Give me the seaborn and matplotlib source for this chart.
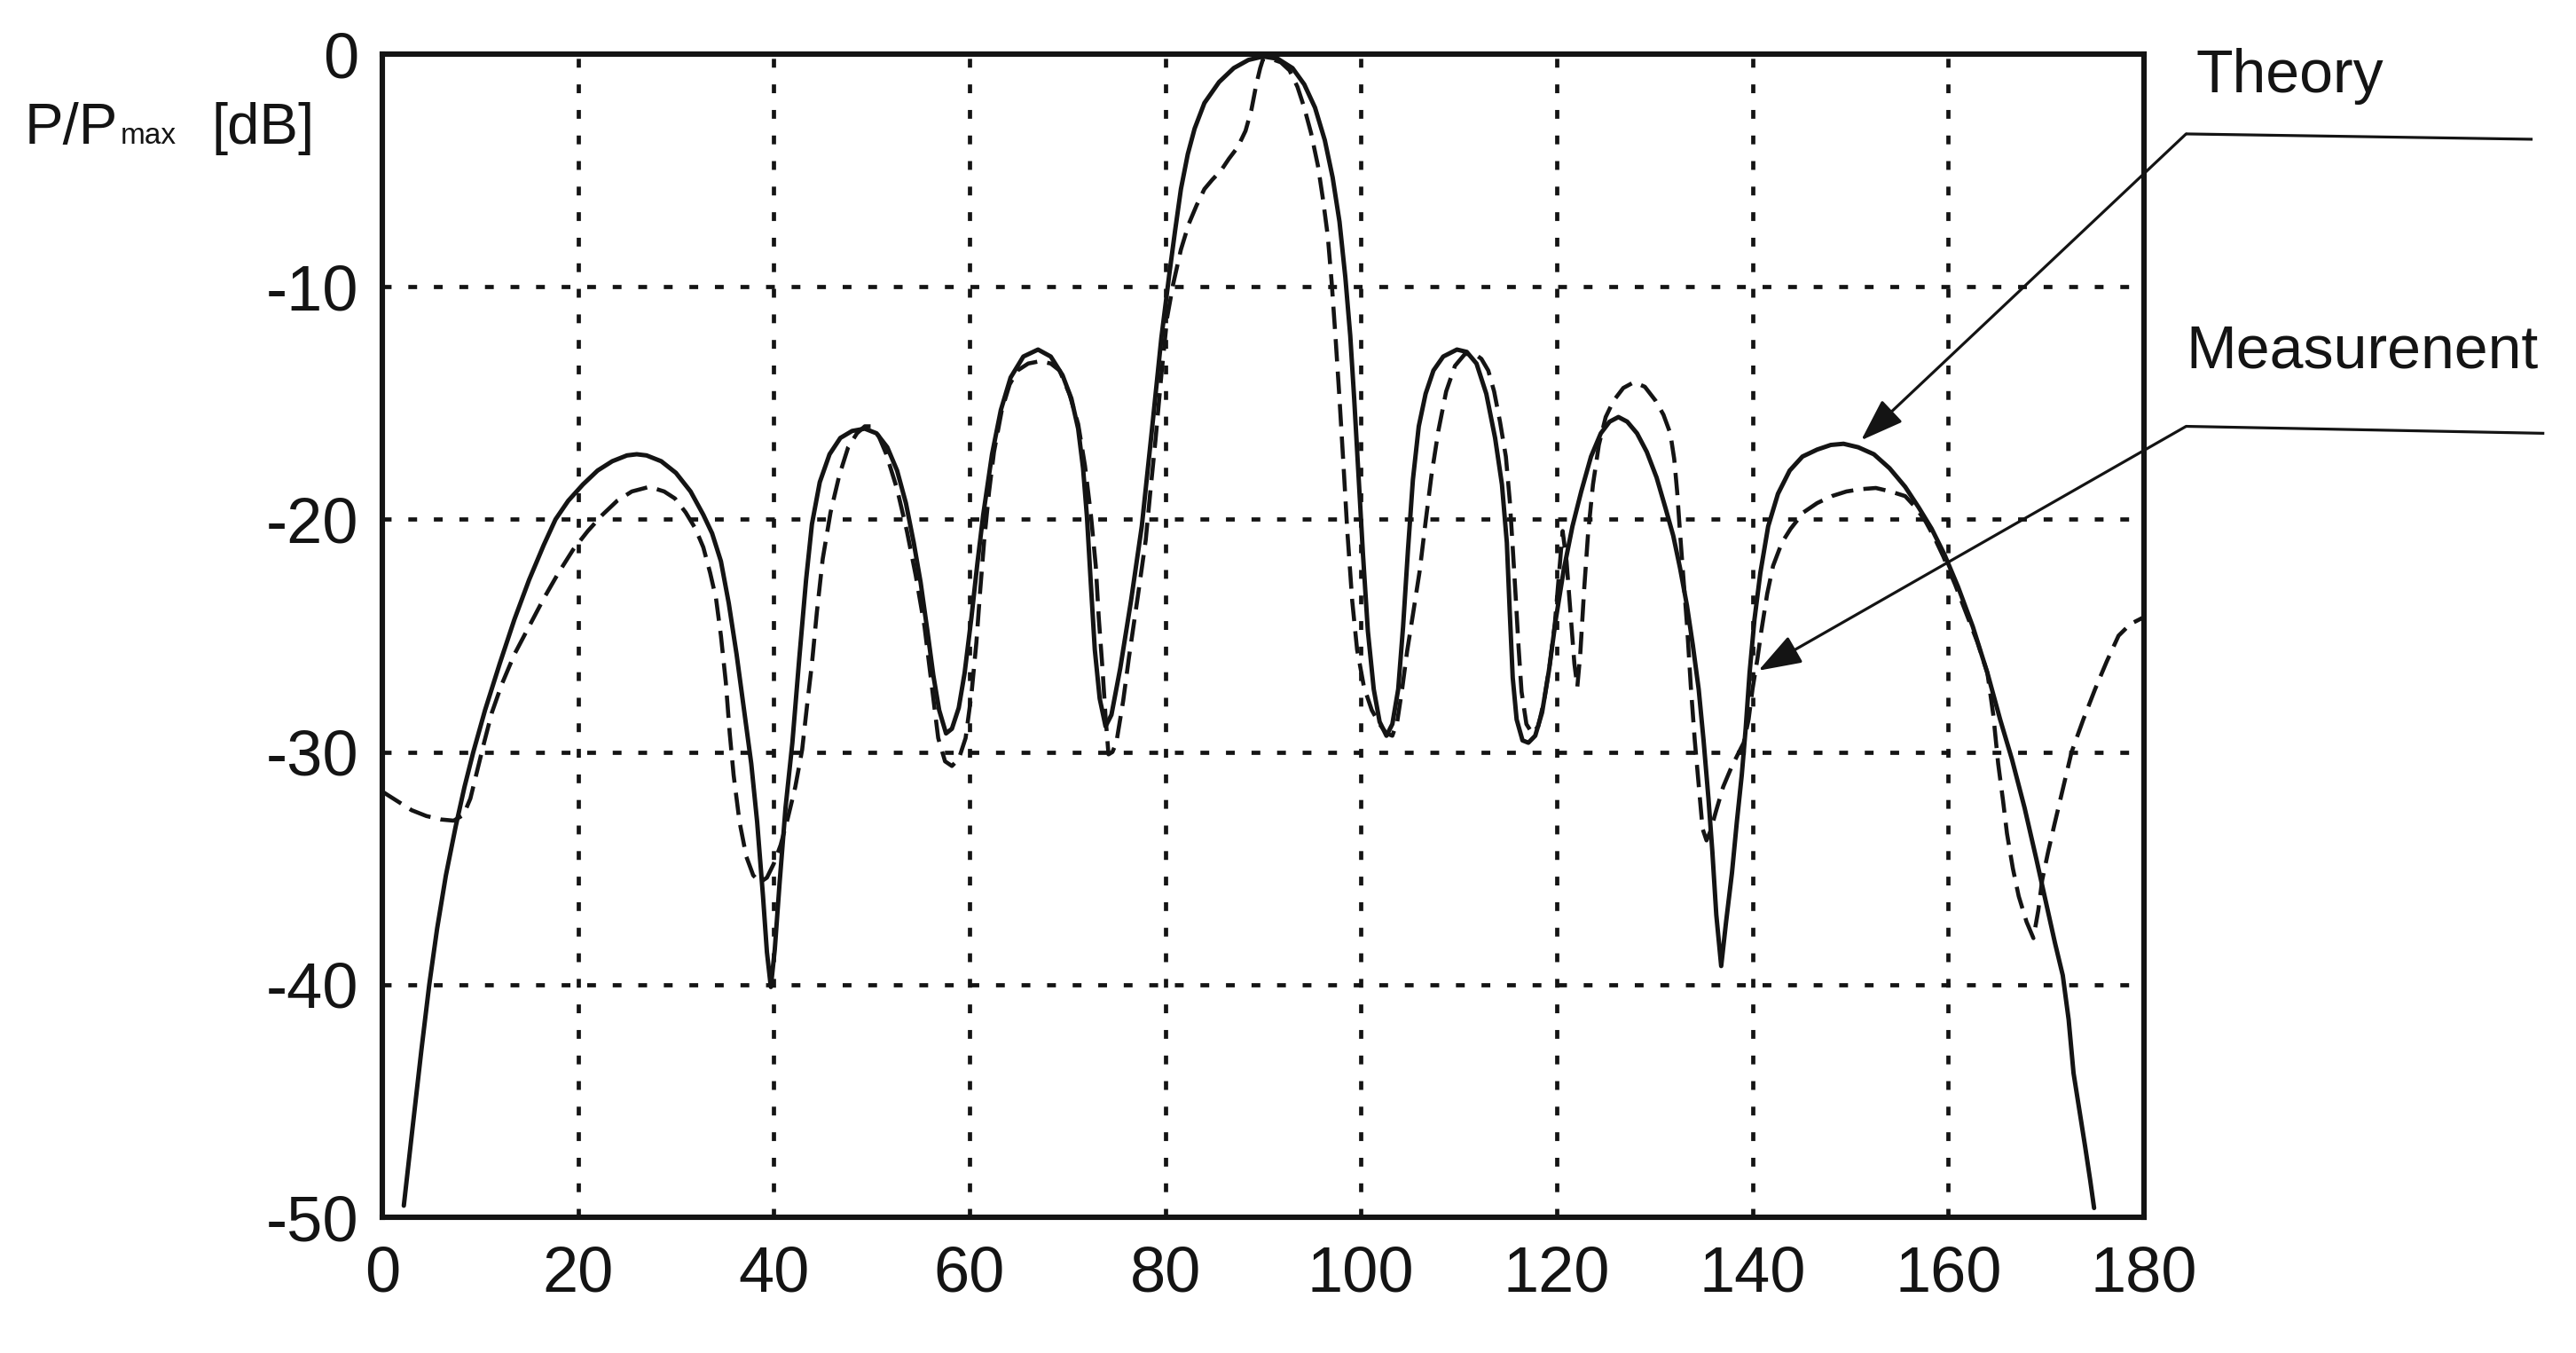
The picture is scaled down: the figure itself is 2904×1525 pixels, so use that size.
import pandas as pd
import seaborn as sns
import matplotlib
import matplotlib.pyplot as plt
from matplotlib import font_manager
from matplotlib.patches import ArrowStyle

matplotlib.use("Agg")

# ---- data ----
theory_angle = [
    2.2, 3.0, 4.0, 4.8, 5.6, 6.5, 7.5, 8.4, 9.3, 10.5, 12.0, 13.5, 15.0, 16.5,
    17.7, 19.0, 20.5, 22.0, 23.5, 25.0, 26.0, 27.0, 28.5, 30.0, 31.5, 32.8,
    33.7, 34.6, 35.4, 36.2, 37.0, 37.7, 38.3, 38.9, 39.3, 39.7, 40.1, 40.6,
    41.2, 41.9, 42.6, 43.3, 43.9, 44.7, 45.7, 46.8, 48.0, 49.3, 50.5, 51.6,
    52.6, 53.5, 54.3, 55.0, 55.7, 56.3, 56.9, 57.6, 58.2, 58.9, 59.5, 60.2,
    60.8, 61.4, 62.3, 63.2, 64.2, 65.5, 67.0, 68.3, 69.5, 70.4, 71.1, 71.6,
    72.0, 72.4, 72.8, 73.3, 73.9, 74.5, 75.4, 76.5, 77.6, 78.6, 79.6, 80.4,
    81.0, 81.6, 82.3, 83.0, 84.0, 85.5, 87.0, 88.5, 90.0, 91.5, 93.0, 94.2,
    95.3, 96.3, 97.1, 97.8, 98.4, 98.9, 99.3, 99.7, 100.2, 100.7, 101.3,
    101.9, 102.6, 103.2, 103.8, 104.3, 104.8, 105.3, 105.9, 106.6, 107.4,
    108.4, 109.8, 110.8, 111.8, 112.8, 113.7, 114.4, 114.9, 115.2, 115.5,
    115.9, 116.5, 117.1, 117.8, 118.5, 119.2, 119.9, 120.7, 121.6, 122.5,
    123.5, 124.5, 125.4, 126.3, 127.2, 128.2, 129.2, 130.2, 131.1, 131.9,
    132.6, 133.3, 133.9, 134.5, 135.0, 135.5, 135.9, 136.3, 136.8, 137.3,
    137.9, 138.4, 138.9, 139.3, 139.7, 140.2, 140.8, 141.6, 142.6, 143.8,
    145.1, 146.6, 148.0, 149.3, 150.8, 152.4, 154.0, 155.6, 157.0, 158.3,
    159.6, 161.0, 162.5, 164.0, 165.3, 166.5, 167.8, 169.0, 170.0, 170.9,
    171.7, 172.3, 172.8, 173.4, 174.0, 174.5, 174.9,
]
theory_db = [
    -49.5, -46.5, -42.8, -40.0, -37.6, -35.3, -33.2, -31.5, -30.0, -28.2,
    -26.2, -24.3, -22.6, -21.1, -20.0, -19.2, -18.5, -17.9, -17.5, -17.25,
    -17.2, -17.25, -17.5, -18.0, -18.8, -19.8, -20.6, -21.8, -23.6, -25.8,
    -28.3, -30.5, -33.0, -36.2, -38.6, -40.1, -38.5, -35.6, -32.4, -29.6,
    -26.0, -22.6, -20.2, -18.4, -17.2, -16.5, -16.2, -16.1, -16.3, -16.9,
    -17.9, -19.3, -21.0, -22.7, -24.8, -26.7, -28.2, -29.2, -29.0, -28.1,
    -26.6, -24.2, -21.9, -19.8, -17.2, -15.3, -13.9, -13.0, -12.7, -13.0,
    -13.8, -14.8, -16.1, -17.8, -19.9, -22.8, -25.6, -27.7, -28.9, -28.4,
    -26.4, -23.5, -20.3, -16.3, -12.2, -9.5, -7.6, -5.8, -4.3, -3.2, -2.1,
    -1.2, -0.6, -0.25, -0.1, -0.2, -0.6, -1.3, -2.3, -3.7, -5.3, -7.2, -9.6,
    -12.1, -14.8, -17.8, -21.5, -24.8, -27.3, -28.7, -29.3, -28.8, -27.3,
    -24.6, -21.3, -18.3, -16.0, -14.6, -13.6, -13.0, -12.7, -12.8, -13.3,
    -14.6, -16.5, -18.5, -21.0, -24.0, -26.8, -28.6, -29.5, -29.6, -29.3,
    -28.3, -26.5, -24.3, -22.2, -20.3, -18.8, -17.3, -16.3, -15.8, -15.6,
    -15.8, -16.3, -17.1, -18.2, -19.5, -20.7, -22.1, -23.7, -25.4, -27.3,
    -29.5, -32.0, -34.3, -37.0, -39.2, -37.3, -35.2, -33.0, -31.0, -29.0,
    -26.6, -24.3, -22.3, -20.3, -18.9, -17.9, -17.3, -17.0, -16.8, -16.75,
    -16.9, -17.2, -17.8, -18.6, -19.5, -20.4, -21.5, -22.9, -24.6, -26.6,
    -28.6, -30.3, -32.4, -34.6, -36.5, -38.2, -39.6, -41.5, -43.8, -45.4,
    -47.0, -48.4, -49.6,
]

measured_angle = [
    0.0, 1.5, 3.0, 4.5, 6.0, 7.3, 8.3, 9.0, 9.7, 10.4, 11.2, 12.2, 13.5, 15.0,
    16.5, 18.0, 19.5, 21.0, 22.5, 24.0, 25.5, 27.3, 28.8, 29.9, 31.0, 32.0,
    32.8, 33.5, 34.1, 34.6, 35.1, 35.5, 35.9, 36.5, 37.2, 37.9, 38.6, 39.3,
    40.0, 40.7, 41.4, 42.2, 42.9, 43.4, 43.9, 44.4, 45.0, 45.8, 46.7, 47.6,
    48.5, 49.3, 49.9, 50.7, 51.5, 52.6, 53.6, 54.5, 55.4, 56.1, 56.8, 57.5,
    58.2, 58.9, 59.6, 60.2, 60.7, 61.1, 61.5, 62.0, 62.5, 63.3, 64.1, 64.9,
    66.0, 67.2, 68.3, 69.2, 70.2, 71.1, 71.8, 72.4, 72.9, 73.2, 73.6, 73.9,
    74.2, 74.6, 75.0, 75.7, 76.3, 77.2, 78.0, 78.5, 79.0, 79.6, 80.2, 80.8,
    81.6, 82.4, 83.2, 84.0, 84.8, 85.7, 86.5, 87.4, 88.2, 88.8, 89.3, 89.7,
    90.0, 90.8, 91.8, 92.7, 93.5, 94.2, 94.9, 95.6, 96.1, 96.6, 97.0, 97.4,
    97.8, 98.2, 98.6, 99.1, 99.6, 100.3, 101.1, 101.9, 102.6, 103.2, 103.7,
    104.2, 104.7, 105.3, 106.0, 106.6, 107.2, 107.9, 108.7, 109.6, 110.6,
    111.5, 112.3, 113.0, 113.6, 114.2, 114.8, 115.2, 115.5, 115.8, 116.1,
    116.4, 116.9, 117.5, 118.1, 118.7, 119.3, 119.8, 120.2, 120.6, 121.0,
    121.4, 121.8, 122.1, 122.4, 122.8, 123.2, 123.7, 124.3, 125.0, 125.8,
    126.8, 127.9, 129.0, 130.1, 130.9, 131.6, 132.0, 132.3, 132.6, 132.9,
    133.3, 133.7, 134.1, 134.5, 134.9, 135.3, 135.7, 136.3, 137.0, 137.8,
    138.5, 139.1, 139.6, 140.0, 140.5, 140.9, 141.5, 142.1, 143.0, 143.9,
    145.2, 146.6, 148.1, 149.6, 151.1, 152.6, 154.1, 155.6, 156.7, 157.7,
    158.6, 159.5, 160.7, 161.9, 163.0, 164.0, 164.6, 165.1, 165.6, 166.0,
    166.6, 167.2, 168.0, 168.7, 169.2, 169.6, 170.2, 170.8, 171.7, 172.6,
    173.8, 175.0, 176.2, 177.4, 178.6, 180.0,
]
measured_db = [
    -31.7, -32.1, -32.5, -32.75, -32.9, -32.95, -32.7, -32.0, -30.8, -29.6,
    -28.3, -27.1, -25.8, -24.6, -23.4, -22.3, -21.3, -20.5, -19.8, -19.2,
    -18.8, -18.6, -18.8, -19.1, -19.7, -20.4, -21.2, -22.3, -23.4, -25.0,
    -27.0, -29.2, -31.0, -33.0, -34.5, -35.3, -35.6, -35.4, -34.8, -34.0,
    -32.9, -31.5, -29.9, -28.0, -26.2, -24.0, -21.7, -19.7, -18.1, -16.9,
    -16.3, -16.0, -16.0, -16.4, -17.2, -18.7, -20.5, -22.4, -24.6, -27.0,
    -29.4, -30.4, -30.6, -30.3, -29.4, -27.5, -25.3, -23.0, -20.9, -18.8,
    -17.1, -15.3, -14.2, -13.6, -13.3, -13.2, -13.3, -13.6, -14.6, -15.9,
    -17.7, -19.8, -22.0, -24.2, -26.5, -28.5, -30.1, -30.0, -29.6, -27.8,
    -25.9, -23.3, -20.9, -18.7, -16.6, -13.8, -11.3, -9.9, -8.4, -7.3, -6.5,
    -5.8, -5.4, -5.0, -4.5, -4.0, -3.3, -2.4, -1.3, -0.6, -0.2, -0.2, -0.35,
    -0.7, -1.4, -2.3, -3.4, -4.8, -6.2, -7.8, -9.8, -12.2, -14.8, -17.6,
    -20.5, -23.5, -25.6, -27.2, -28.2, -28.8, -29.2, -29.3, -28.7, -27.3,
    -25.7, -24.1, -22.2, -20.1, -18.1, -16.2, -14.5, -13.4, -12.9, -12.85,
    -13.1, -13.6, -14.5, -15.8, -17.3, -19.2, -21.2, -23.3, -25.5, -27.4,
    -28.8, -29.2, -28.9, -27.8, -26.2, -24.5, -22.5, -20.5, -21.8, -24.0,
    -26.2, -27.2, -25.8, -23.0, -20.6, -18.5, -16.8, -15.6, -14.9, -14.35,
    -14.1, -14.3, -14.9, -15.5, -16.3, -17.4, -18.8, -20.6, -22.3, -24.5,
    -27.2, -29.5, -31.4, -33.3, -33.8, -33.4, -32.5, -31.5, -30.7, -30.1,
    -29.6, -28.6, -27.3, -26.0, -24.8, -23.2, -22.0, -21.0, -20.4, -19.7,
    -19.3, -19.0, -18.8, -18.7, -18.65, -18.8, -19.0, -19.5, -20.1, -20.8,
    -21.6, -22.8, -24.1, -25.3, -26.6, -28.4, -30.5, -32.1, -33.5, -35.0,
    -36.2, -37.3, -38.0, -36.8, -35.5, -34.3, -33.2, -31.6, -30.0, -28.6,
    -27.3, -26.1, -25.0, -24.5, -24.2,
]

x_ticks = [0, 20, 40, 60, 80, 100, 120, 140, 160, 180]
y_ticks = [0, -10, -20, -30, -40, -50]
y_tick_labels = ["0", "-10", "-20", "-30", "-40", "-50"]

# annotation callouts: (tip, elbow, end) in data units, label anchor
theory_callout = [(151.1, -16.6), (184.3, -3.43), (219.7, -3.66)]
measured_callout = [(140.6, -26.5), (184.3, -16.0), (220.9, -16.3)]
theory_label_pos = (185.3, -1.64)
measured_label_pos = (184.3, -13.5)

INK = "#141414"

sns.set_theme(style="white")
plt.rcParams["font.family"] = ["Liberation Sans", "DejaVu Sans"]
plt.rcParams["axes.unicode_minus"] = False

installed = {f.name for f in font_manager.fontManager.ttflist}
narrow = "Liberation Sans Narrow" in installed
tick_family = "Liberation Sans Narrow" if narrow else "Liberation Sans"
tick_size = 56 if narrow else 52

fig = plt.figure(figsize=(29.04, 15.25), dpi=100)
fig.patch.set_facecolor("white")
ax = fig.add_axes([0.1484, 0.1003, 0.6839, 0.8597])

theory_df = pd.DataFrame({"angle": theory_angle, "power": theory_db})
measured_df = pd.DataFrame({"angle": measured_angle, "power": measured_db})

sns.lineplot(data=theory_df, x="angle", y="power", ax=ax, color=INK,
             lw=3.6, sort=False, estimator=None, zorder=3)
sns.lineplot(data=measured_df, x="angle", y="power", ax=ax, color=INK,
             lw=3.3, sort=False, estimator=None, linestyle=(0, (5.5, 2.5)),
             zorder=3)

ax.set_xlim(0, 180)
ax.set_ylim(-50, 0)
ax.set_xticks(x_ticks)
ax.set_xticklabels([str(t) for t in x_ticks])
ax.set_yticks(y_ticks)
ax.set_yticklabels(y_tick_labels)
ax.set_xlabel("")
ax.set_ylabel("")

ax.grid(True, color=INK, lw=3.4, linestyle=(0, (2.1, 4.0)))
ax.set_axisbelow(True)
for spine in ax.spines.values():
    spine.set_linewidth(4.4)
    spine.set_color(INK)
    spine.set_zorder(4)

ax.tick_params(axis="both", length=0, labelsize=tick_size, labelcolor=INK)
ax.tick_params(axis="x", pad=23)
ax.tick_params(axis="y", pad=19)
for lbl in ax.get_xticklabels() + ax.get_yticklabels():
    lbl.set_fontfamily(tick_family)

# callout arrows and labels
arrow = ArrowStyle("-|>", head_length=30, head_width=10.5)
for tip, elbow, end in (theory_callout, measured_callout):
    ax.annotate("", xy=tip, xytext=elbow, annotation_clip=False,
                arrowprops=dict(arrowstyle=arrow, color=INK, lw=2.3,
                                shrinkA=0, shrinkB=0, mutation_scale=1))
    ax.plot([elbow[0], end[0]], [elbow[1], end[1]], color=INK, lw=2.3,
            clip_on=False, solid_capstyle="butt")

ax.text(*theory_label_pos, "Theory", fontsize=49, color=INK,
        ha="left", va="baseline", clip_on=False)
ax.text(*measured_label_pos, "Measurenent", fontsize=49, color=INK,
        ha="left", va="baseline", clip_on=False)

# y axis caption: P/P_max [dB]
base_y = 1 - 162 / 1525
fig.text(28 / 2904, base_y, "P/P", fontsize=47, color=INK, va="baseline")
fig.text(136 / 2904, base_y, "max", fontsize=24, color=INK, va="baseline")
fig.text(238 / 2904, base_y, "[dB]", fontsize=47, color=INK, va="baseline")

fig.savefig("out.png", dpi=100, facecolor="white")
